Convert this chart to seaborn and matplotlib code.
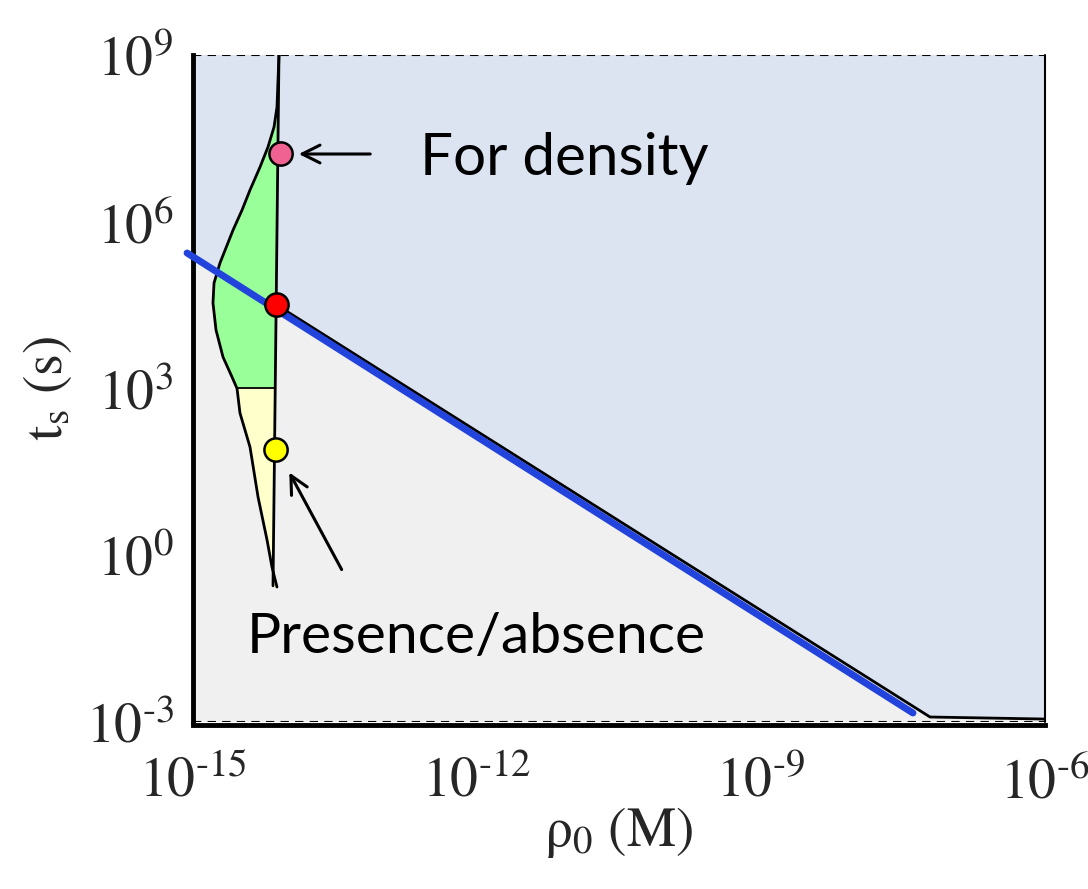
import numpy as np
import matplotlib.pyplot as plt
import seaborn as sns

# values, as log10 of the data
# distribution outline (left edge of the green/yellow shape)
curve_logx = [-14.092, -14.113, -14.144, -14.208, -14.292, -14.398, -14.482, -14.577,
              -14.715, -14.778, -14.789, -14.757, -14.683, -14.588, -14.535, -14.504,
              -14.398, -14.313, -14.218, -14.166, -14.113]
curve_logy = [9.0, 8.064, 7.705, 7.345, 6.985, 6.571, 6.211, 5.851,
              5.258, 4.898, 4.538, 4.052, 3.566, 3.207, 3.0, 2.559,
              1.947, 1.047, 0.274, -0.212, -0.572]
split_logy = 3.0

# near-vertical line the distribution sits on
stem_logx = [-14.092, -14.155]
stem_logy = [9.0, -0.55]

# threshold line (blue) and boundary of the density region (black)
blue_logx = [-15.063, -7.395]
blue_logy = [5.438, -2.839]
bound_logx = [-15.0, -14.113, -7.215, -6.021, -6.0]
bound_logy = [5.37, 4.50, -2.911, -2.947, -2.95]

# the three marked points
pt_logx = [-14.070, -14.113, -14.123]
pt_logy = [7.219, 4.502, 1.893]
pt_colors = ["#f06292", "#ff0000", "#ffff00"]

xtick_exp = [-15, -12, -9, -6]
ytick_exp = [-3, 0, 3, 6, 9]

sns.set_theme(style="white")
plt.rcParams["font.family"] = ["Lato", "DejaVu Sans"]
plt.rcParams["mathtext.fontset"] = "stix"

fig = plt.figure(figsize=(10.88, 8.89), dpi=100)
ax = fig.add_axes([0.1774, 0.1879, 0.7831, 0.7502])
ax.set_xscale("log")
ax.set_yscale("log")
ax.set_xlim(1e-15, 1e-6)
ax.set_ylim(1e-3, 1e9)
ax.set_facecolor("#f0f0f0")

p10 = lambda v: 10.0 ** np.asarray(v)


def stem_x(ly):
    t = (stem_logy[0] - ly) / (stem_logy[0] - stem_logy[1])
    return stem_logx[0] + t * (stem_logx[1] - stem_logx[0])


def tick_label(e):
    if e < 0:
        return r"$10^{\text{-}%d}$" % (-e)
    return r"$10^{%d}$" % e


# blue (density) region above the boundary
ax.fill(p10([-15, -6] + bound_logx[::-1]), p10([9, 9] + bound_logy[::-1]),
        color="#dbe4f0", lw=0, zorder=1)

# green / yellow parts of the distribution
cx = np.array(curve_logx)
cy = np.array(curve_logy)
up = cy >= split_logy
gx = list(cx[up]) + [stem_x(split_logy), stem_x(9.0)]
gy = list(cy[up]) + [split_logy, 9.0]
ax.fill(p10(gx), p10(gy), color="#99ff99", lw=0, zorder=2)
lo = cy <= split_logy
yx = list(cx[lo]) + [stem_x(cy[-1]), stem_x(split_logy)]
yy = list(cy[lo]) + [cy[-1], split_logy]
ax.fill(p10(yx), p10(yy), color="#ffffcc", lw=0, zorder=2)

ax.plot(p10(curve_logx), p10(curve_logy), color="black", lw=2, zorder=3)
ax.plot(p10(stem_logx), p10(stem_logy), color="black", lw=2, zorder=3)
ax.plot(p10([cx[up][-1], stem_x(split_logy)]), p10([split_logy, split_logy]),
        color="black", lw=1.3, zorder=3)

# boundary and threshold line
ax.plot(p10(bound_logx[1:]), p10(bound_logy[1:]), color="black", lw=2, zorder=3)
sns.lineplot(x=p10(blue_logx), y=p10(blue_logy), color="#2244dd", lw=5,
             ax=ax, zorder=4, clip_on=False)

sns.scatterplot(x=p10(pt_logx), y=p10(pt_logy), hue=pt_colors, palette=pt_colors,
                s=280, edgecolor="black", linewidth=1.8, legend=False, ax=ax, zorder=5)

# annotations
ax.annotate("", xy=p10([-13.912, 7.219]), xytext=p10([-13.099, 7.219]),
            arrowprops=dict(arrowstyle="->", lw=2.2, color="black", mutation_scale=32), zorder=6)
ax.text(10 ** -12.602, 10 ** 7.147, "For density", fontsize=42, ha="left", va="center",
        color="black", zorder=6)
ax.annotate("", xy=p10([-13.997, 1.533]), xytext=p10([-13.416, -0.302]),
            arrowprops=dict(arrowstyle="->", lw=2.2, color="black", mutation_scale=32), zorder=6)
ax.text(10 ** -14.43, 10 ** -1.489, "Presence/absence", fontsize=41, ha="left",
        va="center", color="black", zorder=6)

# dashed edges
ax.axhline(10 ** 9, color="black", lw=1.5, ls=(0, (4, 3)), zorder=6)
ax.axhline(10 ** -3, color="black", lw=1.5, ls=(0, (4, 3)), zorder=6)

ax.set_xticks(p10(xtick_exp))
ax.set_xticklabels([tick_label(e) for e in xtick_exp])
ax.set_yticks(p10(ytick_exp))
ax.set_yticklabels([tick_label(e) for e in ytick_exp])
ax.minorticks_off()
ax.tick_params(axis="both", length=0, labelsize=40)
ax.tick_params(axis="x", pad=22)
ax.tick_params(axis="y", pad=14)

ax.set_xlabel(r"$\mathrm{\rho_0\ (M)}$", fontsize=40, labelpad=-2)
ax.set_ylabel(r"$\mathrm{t_s\ (s)}$", fontsize=40, labelpad=8)

for side in ["top", "right"]:
    ax.spines[side].set_visible(False)
ax.spines["left"].set_linewidth(3.5)
ax.spines["left"].set_color("black")
ax.spines["bottom"].set_linewidth(3.5)
ax.spines["bottom"].set_color("black")
ax.spines["bottom"].set_position(("outward", 2))
ax.plot(p10([-6, -6]), p10([-3, 9]), color="black", lw=1.5, zorder=6, clip_on=False)

fig.savefig("out.png", dpi=100)
